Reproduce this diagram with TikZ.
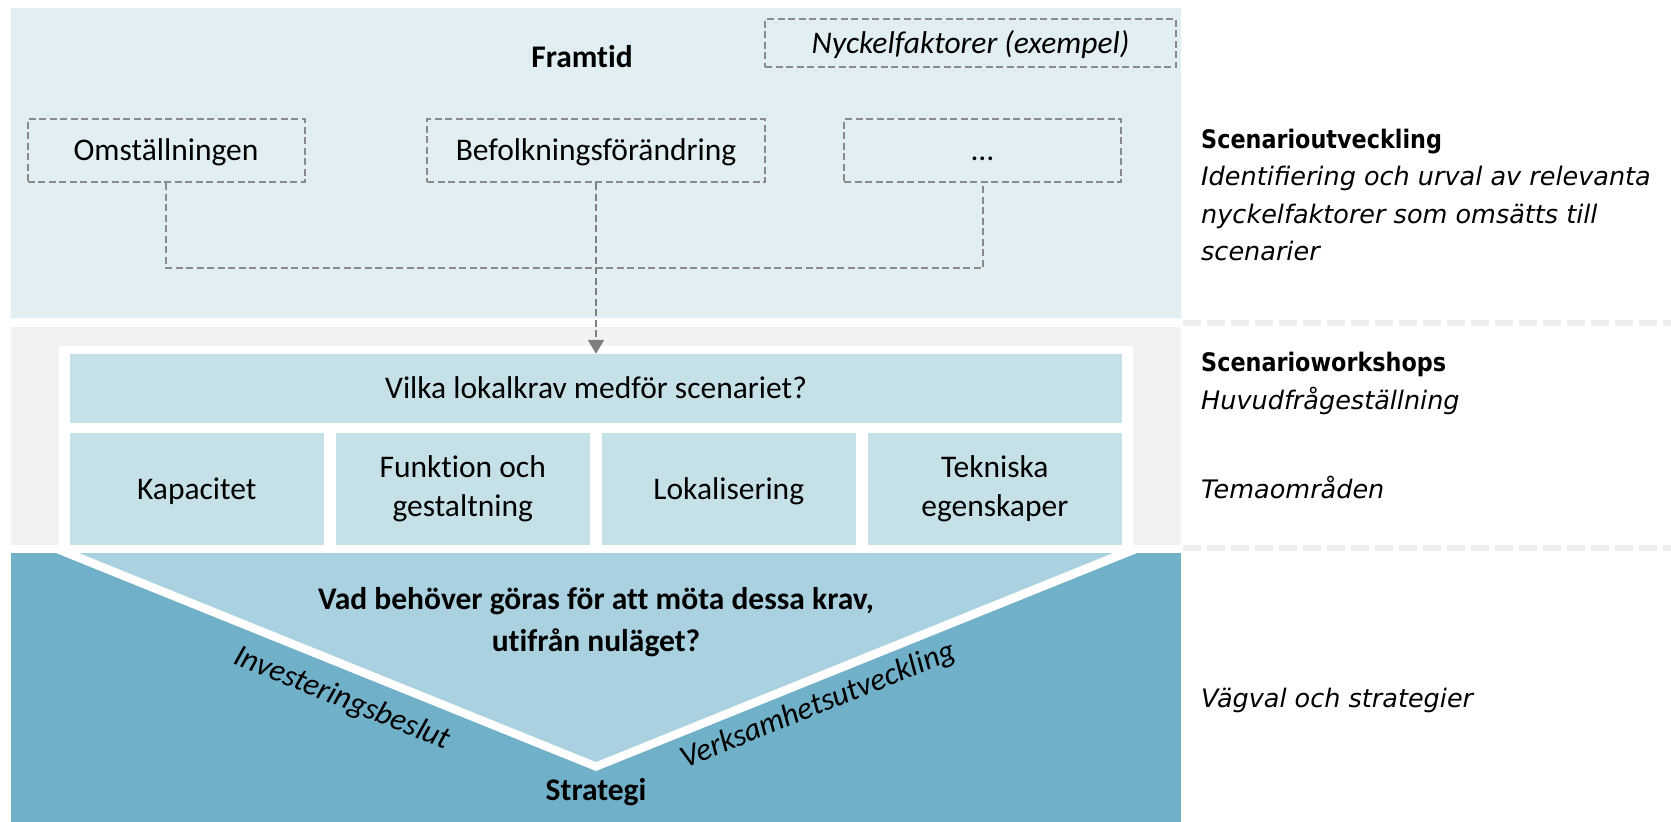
\documentclass[tikz,border=0pt]{standalone}
\usepackage{fontspec}
\setmainfont{Carlito}[Ligatures={NoCommon}]
\newfontfamily\sidefont{DejaVu Sans}[BoldFeatures={FakeStretch=0.875}]
\usetikzlibrary{arrows.meta}

\definecolor{futurebg}{HTML}{E1EFF3}
\definecolor{workbg}{HTML}{F2F2F2}
\definecolor{strategybg}{HTML}{70B0C8}
\definecolor{tilefill}{HTML}{C6E0E8}
\definecolor{vfill}{HTML}{A9D1DF}
\definecolor{dashgray}{HTML}{8A8A8A}
\definecolor{arrowgray}{HTML}{7F7F7F}
\definecolor{sepgray}{HTML}{EEEEEE}

\begin{document}
\begin{tikzpicture}[x=1pt,y=-1pt,
  lefttext/.style={font=\fontsize{31.5}{39}\selectfont, text=black},
  keybox/.style={lefttext, draw=dashgray, line width=2pt,
    dash pattern=on 7pt off 3.5pt, inner sep=0pt,
    text height=20.5pt, text depth=0pt},
  tile/.style={lefttext, fill=tilefill, inner sep=0pt, align=center},
  oneline/.style={text height=20.5pt, text depth=0pt},
  conn/.style={draw=dashgray, line width=2pt, dash pattern=on 7pt off 3.5pt},
  sidehead/.style={font=\sidefont\bfseries\fontsize{25.5}{37.7}\selectfont,
    anchor=base west, inner sep=0pt},
  sidenote/.style={font=\sidefont\itshape\fontsize{25.5}{37.7}\selectfont,
    anchor=base west, inner sep=0pt, align=left},
  sep/.style={draw=sepgray, line width=6pt, dash pattern=on 18pt off 6pt},
]
\useasboundingbox (0,0) rectangle (1671,822);

% background bands
\fill[futurebg] (11,8) rectangle (1181,318);
\fill[workbg] (11,327) rectangle (1181,545);
\fill[white] (59,346) rectangle (1133,545);
\fill[strategybg] (11,553) rectangle (1181,822);

% funnel towards the strategy
\fill[white] (56,553) -- (1137,553) -- (596,771) -- cycle;
\fill[vfill] (79,553) -- (1113,553) -- (596,762) -- cycle;

% future: key factors
\node[lefttext, font=\fontsize{31.5}{39}\selectfont\bfseries, anchor=base,
  inner sep=0pt] (fr) at (582,67) {Framtid};
\node[keybox, font=\fontsize{31.5}{39}\selectfont\itshape,
  minimum width=411pt, minimum height=48pt] (nk) at (970.5,43)
  {Nyckelfaktorer (exempel)};
\node[keybox, minimum width=277pt, minimum height=63pt] (om) at (166,150.5)
  {Omställningen};
\node[keybox, minimum width=338pt, minimum height=63pt] (bf) at (596,150.5)
  {Befolkningsförändring};
\node[keybox, minimum width=277pt, minimum height=63pt] (more) at (982.5,150.5)
  {…};

% workshop questions
\node[tile, oneline, minimum width=1052pt, minimum height=69pt] (q) at (596,388.5)
  {Vilka lokalkrav medför scenariet?};
\node[tile, oneline, minimum width=253.5pt, minimum height=112.3pt] (t1)
  at (196.75,488.85) {Kapacitet};
\node[tile, minimum width=253.5pt, minimum height=112.3pt] (t2)
  at (462.75,488.85) {Funktion och\\gestaltning};
\node[tile, oneline, minimum width=253.5pt, minimum height=112.3pt] (t3)
  at (728.75,488.85) {Lokalisering};
\node[tile, minimum width=253.5pt, minimum height=112.3pt] (t4)
  at (994.75,488.85) {Tekniska\\egenskaper};

% connectors from the key factors to the main question
\coordinate (jn) at (596,268);
\draw[conn] (om.south) |- (jn) -| (more.south);
\draw[conn, draw=arrowgray, line width=2.5pt,
  -{Triangle[width=16pt,length=14pt]}] (bf.south) -- (bf.south |- q.north);

% strategy part
\node[lefttext, font=\fontsize{31.5}{42}\selectfont\bfseries, align=center,
  inner sep=0pt] (ask) at (596,622)
  {Vad behöver göras för att möta dessa krav,\\utifrån nuläget?};
\node[lefttext, font=\fontsize{31.5}{39}\selectfont\bfseries, anchor=base,
  inner sep=0pt] (strat) at (596,800) {Strategi};
\node[lefttext, font=\fontsize{31.5}{39}\selectfont\itshape, rotate=-22,
  inner sep=0pt] (inv) at (342,699) {Investeringsbeslut};
\node[lefttext, font=\fontsize{31.5}{39}\selectfont\itshape, rotate=22,
  inner sep=0pt] (verk) at (818,706) {Verksamhetsutveckling};

% phase separators
\coordinate (s1a) at (1183,323);
\coordinate (s1b) at (1671,323);
\coordinate (s2a) at (1183,548);
\coordinate (s2b) at (1671,548);
\draw[sep] (s1a) -- (s1b);
\draw[sep] (s2a) -- (s2b);

% phase descriptions
\node[sidehead] (su) at (1201,148.8) {Scenarioutveckling};
\node[sidenote, anchor=north west] (sud) at (1201,166)
  {Identifiering och urval av relevanta\\nyckelfaktorer som omsätts till\\scenarier};
\node[sidehead] (sw) at (1201,371.8) {Scenarioworkshops};
\node[sidenote] (hf) at (1201,409.5) {Huvudfrågeställning};
\node[sidenote] (tm) at (1201,498.8) {Temaområden};
\node[sidenote] (vs) at (1201,707) {Vägval och strategier};
\end{tikzpicture}
\end{document}
